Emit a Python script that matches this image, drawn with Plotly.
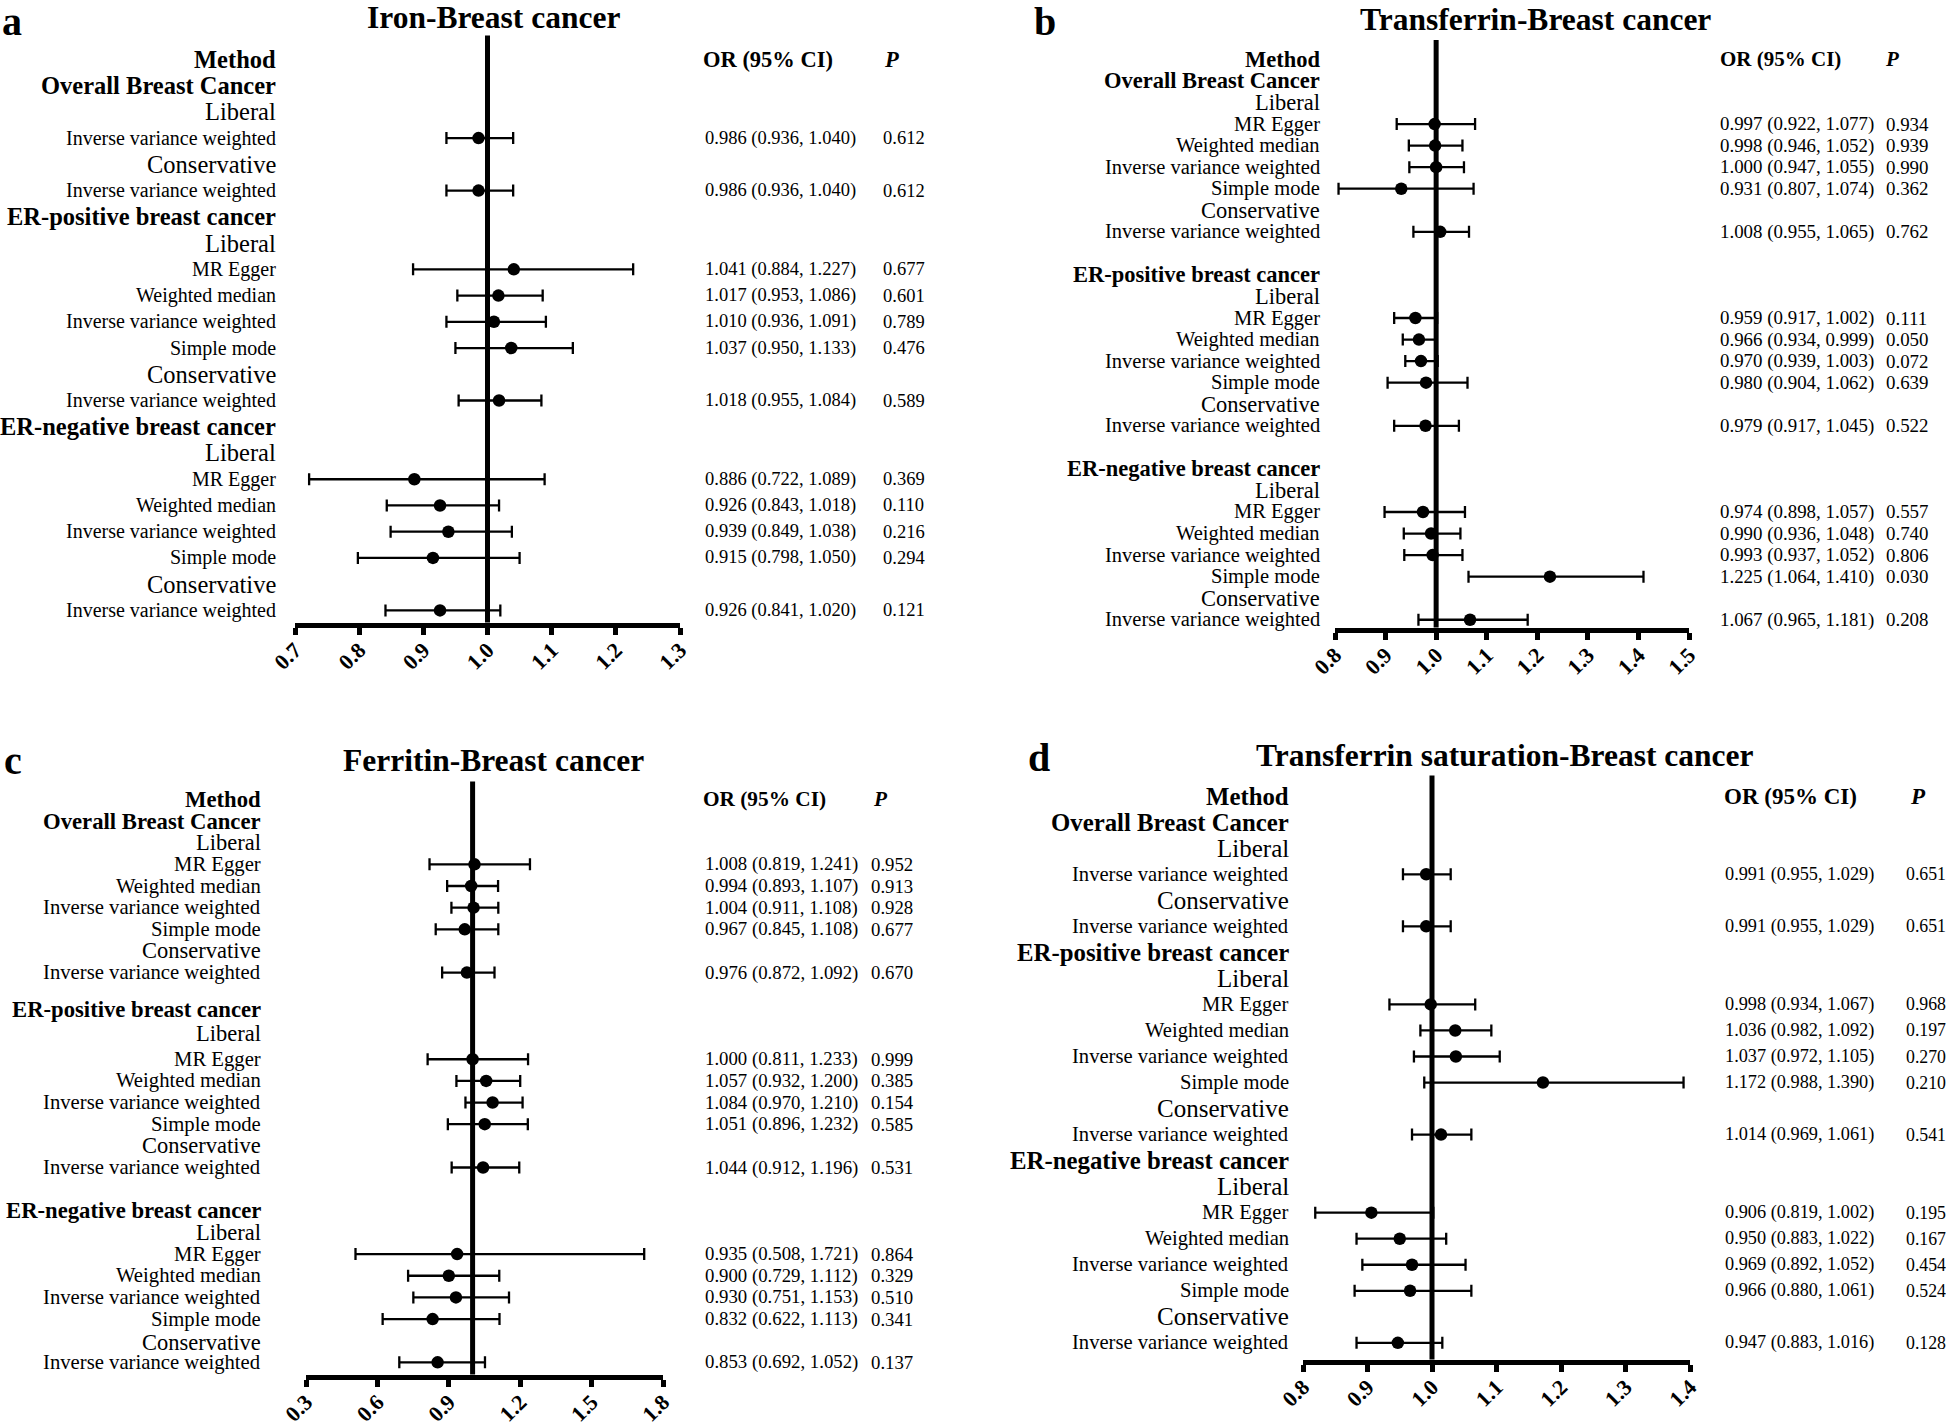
import plotly.graph_objects as go

W, H = 1946, 1428
FONT = "Liberation Serif"


def px_x(px):
    return px / W


def px_y(py):
    return 1 - py / H


# ---------------- data ----------------
HEADERS = {"Method", "Overall Breast Cancer", "ER-positive breast cancer", "ER-negative breast cancer"}
SUBS = {"Liberal", "Conservative"}

IVW = "Inverse variance weighted"
MRE = "MR Egger"
WM = "Weighted median"
SM = "Simple mode"

# Panel a: Iron
a_labels = ["Method", "Overall Breast Cancer", "Liberal", IVW, "Conservative", IVW,
            "ER-positive breast cancer", "Liberal", MRE, WM, IVW, SM, "Conservative", IVW,
            "ER-negative breast cancer", "Liberal", MRE, WM, IVW, SM, "Conservative", IVW]
a_or = [0.986, 0.986, 1.041, 1.017, 1.010, 1.037, 1.018, 0.886, 0.926, 0.939, 0.915, 0.926]
a_lo = [0.936, 0.936, 0.884, 0.953, 0.936, 0.950, 0.955, 0.722, 0.843, 0.849, 0.798, 0.841]
a_hi = [1.040, 1.040, 1.227, 1.086, 1.091, 1.133, 1.084, 1.089, 1.018, 1.038, 1.050, 1.020]
a_p = [0.612, 0.612, 0.677, 0.601, 0.789, 0.476, 0.589, 0.369, 0.110, 0.216, 0.294, 0.121]
a_ticks = [0.7, 0.8, 0.9, 1.0, 1.1, 1.2, 1.3]

# Panel b: Transferrin
b_labels = ["Method", "Overall Breast Cancer", "Liberal", MRE, WM, IVW, SM, "Conservative", IVW,
            "ER-positive breast cancer", "Liberal", MRE, WM, IVW, SM, "Conservative", IVW,
            "ER-negative breast cancer", "Liberal", MRE, WM, IVW, SM, "Conservative", IVW]
b_or = [0.997, 0.998, 1.000, 0.931, 1.008, 0.959, 0.966, 0.970, 0.980, 0.979, 0.974, 0.990, 0.993, 1.225, 1.067]
b_lo = [0.922, 0.946, 0.947, 0.807, 0.955, 0.917, 0.934, 0.939, 0.904, 0.917, 0.898, 0.936, 0.937, 1.064, 0.965]
b_hi = [1.077, 1.052, 1.055, 1.074, 1.065, 1.002, 0.999, 1.003, 1.062, 1.045, 1.057, 1.048, 1.052, 1.410, 1.181]
b_p = [0.934, 0.939, 0.990, 0.362, 0.762, 0.111, 0.050, 0.072, 0.639, 0.522, 0.557, 0.740, 0.806, 0.030, 0.208]
b_ticks = [0.8, 0.9, 1.0, 1.1, 1.2, 1.3, 1.4, 1.5]

# Panel c: Ferritin
c_labels = list(b_labels)
c_or = [1.008, 0.994, 1.004, 0.967, 0.976, 1.000, 1.057, 1.084, 1.051, 1.044, 0.935, 0.900, 0.930, 0.832, 0.853]
c_lo = [0.819, 0.893, 0.911, 0.845, 0.872, 0.811, 0.932, 0.970, 0.896, 0.912, 0.508, 0.729, 0.751, 0.622, 0.692]
c_hi = [1.241, 1.107, 1.108, 1.108, 1.092, 1.233, 1.200, 1.210, 1.232, 1.196, 1.721, 1.112, 1.153, 1.113, 1.052]
c_p = [0.952, 0.913, 0.928, 0.677, 0.670, 0.999, 0.385, 0.154, 0.585, 0.531, 0.864, 0.329, 0.510, 0.341, 0.137]
c_ticks = [0.3, 0.6, 0.9, 1.2, 1.5, 1.8]

# Panel d: Transferrin saturation
d_labels = list(a_labels)
d_or = [0.991, 0.991, 0.998, 1.036, 1.037, 1.172, 1.014, 0.906, 0.950, 0.969, 0.966, 0.947]
d_lo = [0.955, 0.955, 0.934, 0.982, 0.972, 0.988, 0.969, 0.819, 0.883, 0.892, 0.880, 0.883]
d_hi = [1.029, 1.029, 1.067, 1.092, 1.105, 1.390, 1.061, 1.002, 1.022, 1.052, 1.061, 1.016]
d_p = [0.651, 0.651, 0.968, 0.197, 0.270, 0.210, 0.541, 0.195, 0.167, 0.454, 0.524, 0.128]
d_ticks = [0.8, 0.9, 1.0, 1.1, 1.2, 1.3, 1.4]

NULL_OR = 1.0

# ---------------- layout per panel (screen pixels) ----------------
panels = [
    dict(letter="a", title="Iron-Breast cancer", labels=a_labels, OR=a_or, LO=a_lo, HI=a_hi, P=a_p, ticks=a_ticks,
         xpx=(295, 680), ypx=(35.6, 622.5), yr=(21.46, -0.907), slots=list(range(22)),
         lab_x=278, or_x=703, p_x=881, orh_x=701, ph_x=882,
         fs_head=24.5, fs_sub=24.5, fs_meth=20, fs_or=18.5, fs_p=18.5, fs_orh=22.5,
         title_xy=(493, 18), letter_xy=(0, 22)),
    dict(letter="b", title="Transferrin-Breast cancer", labels=b_labels, OR=b_or, LO=b_lo, HI=b_hi, P=b_p, ticks=b_ticks,
         xpx=(1335, 1689), ypx=(40, 627.5), yr=(26.36, -0.9),
         slots=[0, 1, 2, 3, 4, 5, 6, 7, 8, 10, 11, 12, 13, 14, 15, 16, 17, 19, 20, 21, 22, 23, 24, 25, 26],
         lab_x=1322, or_x=1718, p_x=1884, orh_x=1718, ph_x=1883,
         fs_head=22.5, fs_sub=22.5, fs_meth=20.5, fs_or=18.9, fs_p=18.9, fs_orh=21,
         title_xy=(1535, 20), letter_xy=(1032, 22)),
    dict(letter="c", title="Ferritin-Breast cancer", labels=c_labels, OR=c_or, LO=c_lo, HI=c_hi, P=c_p, ticks=c_ticks,
         xpx=(306, 663), ypx=(781.6, 1374.5), yr=(26.56, -0.822),
         slots=[0, 1, 2, 3, 4, 5, 6, 7, 8, 9.7, 10.8, 12, 13, 14, 15, 16, 17, 19, 20, 21, 22, 23, 24, 25.1, 26],
         lab_x=263, or_x=703, p_x=869, orh_x=701, ph_x=871,
         fs_head=22.7, fs_sub=22.5, fs_meth=20.7, fs_or=18.8, fs_p=18.8, fs_orh=21.3,
         title_xy=(493, 760), letter_xy=(2, 760)),
    dict(letter="d", title="Transferrin saturation-Breast cancer", labels=d_labels, OR=d_or, LO=d_lo, HI=d_hi, P=d_p, ticks=d_ticks,
         xpx=(1303, 1690), ypx=(775.6, 1359.5), yr=(21.64, -0.791), slots=list(range(22)),
         lab_x=1291, or_x=1723, p_x=1904, orh_x=1722, ph_x=1908,
         fs_head=24.8, fs_sub=25, fs_meth=20.6, fs_or=18.3, fs_p=17.8, fs_orh=23,
         title_xy=(1504, 755), letter_xy=(1026, 757)),
]

fig = go.Figure()
annotations = []
shapes = []
layout_axes = {}

for i, pn in enumerate(panels):
    n = i + 1
    xs = "" if n == 1 else str(n)
    xname, yname = "x" + xs, "y" + xs
    labels, slots = pn["labels"], pn["slots"]
    meth_slots = [s for lab, s in zip(labels, slots) if lab not in HEADERS and lab not in SUBS]

    fig.add_trace(go.Scatter(
        x=pn["OR"], y=meth_slots, xaxis=xname, yaxis=yname, mode="markers",
        marker=dict(symbol="circle", size=12.5, color="black"),
        error_x=dict(type="data", symmetric=False,
                     array=[h - o for h, o in zip(pn["HI"], pn["OR"])],
                     arrayminus=[o - l for o, l in zip(pn["OR"], pn["LO"])],
                     color="black", thickness=2.3, width=6),
        cliponaxis=False, showlegend=False, hoverinfo="skip"))

    x0, x1 = pn["xpx"]
    yt, yb = pn["ypx"]
    layout_axes["xaxis" + xs] = dict(
        domain=[px_x(x0), px_x(x1)], range=[pn["ticks"][0], pn["ticks"][-1]], anchor=yname,
        automargin=False,
        showgrid=False, zeroline=False, showline=True, linecolor="black", linewidth=5,
        ticks="outside", ticklen=7, tickwidth=5, tickcolor="black",
        tickvals=pn["ticks"], ticktext=["<b>%.1f</b>" % t for t in pn["ticks"]],
        ticklabelstandoff=-6,
        tickangle=-45, tickfont=dict(family=FONT, size=22, color="black"))
    layout_axes["yaxis" + xs] = dict(
        domain=[px_y(yb), px_y(yt)], range=list(pn["yr"]), anchor=xname,
        automargin=False,
        visible=False, showgrid=False, zeroline=False)

    shapes.append(dict(type="line", xref=xname, yref=yname + " domain", x0=NULL_OR, x1=NULL_OR, y0=0, y1=1,
                       line=dict(color="black", width=5), layer="below"))

    # row labels
    k = 0
    for lab, s in zip(labels, slots):
        if lab in HEADERS:
            txt, fs = "<b>%s</b>" % lab, pn["fs_head"]
        elif lab in SUBS:
            txt, fs = lab, pn["fs_sub"]
        else:
            txt, fs = lab, pn["fs_meth"]
        annotations.append(dict(x=px_x(pn["lab_x"]), xref="paper", y=s, yref=yname, text=txt,
                                xanchor="right", yanchor="middle", showarrow=False,
                                font=dict(family=FONT, size=fs, color="black")))
        if lab not in HEADERS and lab not in SUBS:
            o, l, h, p = pn["OR"][k], pn["LO"][k], pn["HI"][k], pn["P"][k]
            annotations.append(dict(x=px_x(pn["or_x"]), xref="paper", y=s, yref=yname,
                                    text="%.3f (%.3f, %.3f)" % (o, l, h),
                                    xanchor="left", yanchor="middle", showarrow=False,
                                    font=dict(family=FONT, size=pn["fs_or"], color="black")))
            annotations.append(dict(x=px_x(pn["p_x"]), xref="paper", y=s, yref=yname, text="%.3f" % p,
                                    xanchor="left", yanchor="middle", showarrow=False,
                                    font=dict(family=FONT, size=pn["fs_p"], color="black")))
            k += 1
    # column headers
    annotations.append(dict(x=px_x(pn["orh_x"]), xref="paper", y=slots[0], yref=yname, text="<b>OR (95% CI)</b>",
                            xanchor="left", yanchor="middle", showarrow=False,
                            font=dict(family=FONT, size=pn["fs_orh"], color="black")))
    annotations.append(dict(x=px_x(pn["ph_x"]), xref="paper", y=slots[0], yref=yname, text="<b><i>P</i></b>",
                            xanchor="left", yanchor="middle", showarrow=False,
                            font=dict(family=FONT, size=pn["fs_orh"], color="black")))
    # title and panel letter
    tx, ty = pn["title_xy"]
    annotations.append(dict(x=px_x(tx), y=px_y(ty), xref="paper", yref="paper", text="<b>%s</b>" % pn["title"],
                            xanchor="center", yanchor="middle", showarrow=False,
                            font=dict(family=FONT, size=31.5, color="black")))
    lx, ly = pn["letter_xy"]
    annotations.append(dict(x=px_x(lx), y=px_y(ly), xref="paper", yref="paper", text="<b>%s</b>" % pn["letter"],
                            xanchor="left", yanchor="middle", showarrow=False,
                            font=dict(family=FONT, size=40, color="black")))

fig.update_layout(
    template="none",
    width=W, height=H, margin=dict(l=0, r=0, t=0, b=0, pad=0, autoexpand=False),
    paper_bgcolor="white", plot_bgcolor="white",
    annotations=annotations, shapes=shapes, showlegend=False,
    font=dict(family=FONT, color="black"),
    **layout_axes)

# remove the page's default body margin so the figure fills the window exactly
fig.write_html("out.html", config={"displayModeBar": False},
               post_script="document.body.style.margin='0px'; document.body.style.overflow='hidden';")
